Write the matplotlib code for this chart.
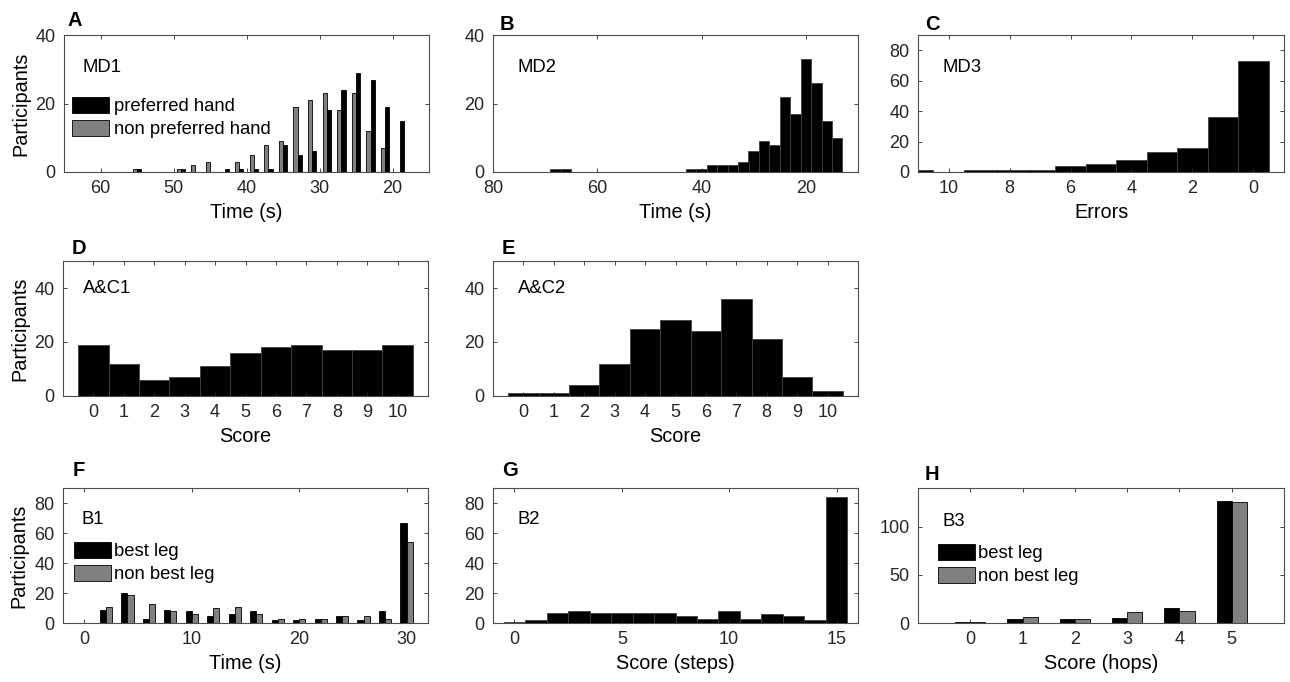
import matplotlib.pyplot as plt
import numpy as np

plt.rcParams['font.family'] = ['Liberation Sans', 'DejaVu Sans']
plt.rcParams['axes.edgecolor'] = '0.3'
plt.rcParams['xtick.color'] = '0.15'
plt.rcParams['ytick.color'] = '0.15'

# A - MD1, 2 s bins
md1_time = [19, 21, 23, 25, 27, 29, 31, 33, 35, 37, 39, 41, 43, 45, 47, 49, 51, 53, 55]
md1_pref = [15, 19, 27, 29, 24, 18, 6, 5, 8, 1, 1, 1, 1, 0, 0, 1, 0, 0, 1]
md1_nonpref = [0, 7, 12, 23, 18, 23, 21, 19, 9, 8, 5, 3, 0, 3, 2, 1, 0, 0, 1]

# B - MD2
md2_time = [14, 16, 18, 20, 22, 24, 26, 28, 30, 32, 34, 36, 38, 40, 42, 66, 68]
md2_count = [10, 15, 26, 33, 17, 22, 8, 9, 6, 3, 2, 2, 2, 1, 1, 1, 1]

# C - MD3
md3_errors = [0, 1, 2, 3, 4, 5, 6, 7, 8, 9, 10, 11]
md3_count = [73, 36, 16, 13, 8, 5, 4, 1, 1, 1, 0, 1]

# D, E - A&C1, A&C2
ac_score = [0, 1, 2, 3, 4, 5, 6, 7, 8, 9, 10]
ac1_count = [19, 12, 6, 7, 11, 16, 18, 19, 17, 17, 19]
ac2_count = [1, 1, 4, 12, 25, 28, 24, 36, 21, 7, 2]

# F - B1
b1_time = [2, 4, 6, 8, 10, 12, 14, 16, 18, 20, 22, 24, 26, 28, 30]
b1_best = [9, 20, 3, 9, 8, 5, 6, 8, 2, 2, 3, 5, 2, 8, 67]
b1_nonbest = [11, 19, 13, 8, 6, 10, 11, 6, 3, 3, 3, 5, 5, 3, 54]

# G - B2
b2_steps = [0, 1, 2, 3, 4, 5, 6, 7, 8, 9, 10, 11, 12, 13, 14, 15]
b2_count = [1, 2, 7, 8, 7, 7, 7, 7, 5, 3, 8, 3, 6, 5, 2, 84]

# H - B3
b3_hops = [0, 1, 2, 3, 4, 5]
b3_best = [1, 4, 4, 5, 16, 127]
b3_nonbest = [1, 6, 4, 11, 12, 125]

W, H = 1290, 682
fig = plt.figure(figsize=(W / 100, H / 100), dpi=100)

TICK = 13
LAB = 14.3
TXT = 13.3
GREY = '#808080'


def make_ax(l, t, r, b):
    ax = fig.add_axes([l / W, 1 - b / H, (r - l) / W, (b - t) / H])
    ax.tick_params(direction='in', top=True, right=True, length=3, width=0.6,
                   labelsize=TICK, pad=6)
    for s in ax.spines.values():
        s.set_linewidth(0.8)
    return ax


def hist_bars(ax, x, y, w):
    ax.bar(x, y, width=w, color='black', edgecolor='0.25', linewidth=0.6)


# ---- A
ax = make_ax(64, 35, 429, 172)
bw = 0.57
ax.bar(np.array(md1_time) + bw / 2, md1_nonpref, width=bw, color=GREY,
       edgecolor='black', linewidth=0.6, label='non preferred hand')
ax.bar(np.array(md1_time) - bw / 2, md1_pref, width=bw, color='black',
       edgecolor='black', linewidth=0.6, label='preferred hand')
ax.set_xlim(65, 15)
ax.set_ylim(0, 40)
ax.set_xticks([60, 50, 40, 30, 20])
ax.set_yticks([0, 20, 40])
ax.set_xlabel('Time (s)', fontsize=LAB)
ax.set_ylabel('Participants', fontsize=LAB)
ax.text(0.052, 0.76, 'MD1', transform=ax.transAxes, fontsize=TXT, va='center')
h, l = ax.get_legend_handles_labels()
ax.legend(h[::-1], l[::-1], loc='upper left', bbox_to_anchor=(0.022, 0.55),
          frameon=False, fontsize=TXT, borderpad=0, borderaxespad=0,
          handlelength=2.0, handleheight=0.95, handletextpad=0.25,
          labelspacing=0.25)

# ---- B
ax = make_ax(493, 35, 858, 172)
hist_bars(ax, md2_time, md2_count, 2)
ax.set_xlim(80, 10)
ax.set_ylim(0, 40)
ax.set_xticks([80, 60, 40, 20])
ax.set_yticks([0, 20, 40])
ax.set_xlabel('Time (s)', fontsize=LAB)
ax.text(0.066, 0.766, 'MD2', transform=ax.transAxes, fontsize=TXT, va='center')

# ---- C
ax = make_ax(918, 35, 1284, 172)
hist_bars(ax, md3_errors, md3_count, 1)
ax.set_xlim(11, -1)
ax.set_ylim(0, 90)
ax.set_xticks([10, 8, 6, 4, 2, 0])
ax.set_yticks([0, 20, 40, 60, 80])
ax.set_xlabel('Errors', fontsize=LAB)
ax.text(0.068, 0.766, 'MD3', transform=ax.transAxes, fontsize=TXT, va='center')

# ---- D
ax = make_ax(63, 261, 428, 396)
hist_bars(ax, ac_score, ac1_count, 1)
ax.set_xlim(-1, 11)
ax.set_ylim(0, 50)
ax.set_xticks(ac_score)
ax.set_yticks([0, 20, 40])
ax.set_xlabel('Score', fontsize=LAB)
ax.set_ylabel('Participants', fontsize=LAB)
ax.text(0.055, 0.8, 'A&C1', transform=ax.transAxes, fontsize=TXT, va='center')

# ---- E
ax = make_ax(493, 261, 858, 396)
hist_bars(ax, ac_score, ac2_count, 1)
ax.set_xlim(-1, 11)
ax.set_ylim(0, 50)
ax.set_xticks(ac_score)
ax.set_yticks([0, 20, 40])
ax.set_xlabel('Score', fontsize=LAB)
ax.text(0.068, 0.8, 'A&C2', transform=ax.transAxes, fontsize=TXT, va='center')

# ---- F
ax = make_ax(63, 488, 428, 623)
ax.bar(np.array(b1_time) - bw / 2, b1_best, width=bw, color='black',
       edgecolor='black', linewidth=0.6, label='best leg')
ax.bar(np.array(b1_time) + bw / 2, b1_nonbest, width=bw, color=GREY,
       edgecolor='black', linewidth=0.6, label='non best leg')
ax.set_xlim(-2, 32)
ax.set_ylim(0, 90)
ax.set_xticks([0, 10, 20, 30])
ax.set_yticks([0, 20, 40, 60, 80])
ax.set_xlabel('Time (s)', fontsize=LAB)
ax.set_ylabel('Participants', fontsize=LAB)
ax.text(0.052, 0.763, 'B1', transform=ax.transAxes, fontsize=TXT, va='center')
ax.legend(loc='upper left', bbox_to_anchor=(0.03, 0.6),
          frameon=False, fontsize=TXT, borderpad=0, borderaxespad=0,
          handlelength=2.0, handleheight=0.95, handletextpad=0.15,
          labelspacing=0.25)

# ---- G
ax = make_ax(493, 488, 858, 623)
hist_bars(ax, b2_steps, b2_count, 1)
ax.set_xlim(-1, 16)
ax.set_ylim(0, 90)
ax.set_xticks([0, 5, 10, 15])
ax.set_yticks([0, 20, 40, 60, 80])
ax.set_xlabel('Score (steps)', fontsize=LAB)
ax.text(0.066, 0.763, 'B2', transform=ax.transAxes, fontsize=TXT, va='center')

# ---- H
ax = make_ax(918, 488, 1284, 623)
hw = 0.29
ax.bar(np.array(b3_hops) - hw / 2, b3_best, width=hw, color='black',
       edgecolor='black', linewidth=0.6, label='best leg')
ax.bar(np.array(b3_hops) + hw / 2, b3_nonbest, width=hw, color=GREY,
       edgecolor='black', linewidth=0.6, label='non best leg')
ax.set_xlim(-1, 6)
ax.set_ylim(0, 140)
ax.set_xticks(b3_hops)
ax.set_yticks([0, 50, 100])
ax.set_xlabel('Score (hops)', fontsize=LAB)
ax.text(0.068, 0.75, 'B3', transform=ax.transAxes, fontsize=TXT, va='center')
ax.legend(loc='upper left', bbox_to_anchor=(0.055, 0.585),
          frameon=False, fontsize=TXT, borderpad=0, borderaxespad=0,
          handlelength=2.0, handleheight=0.95, handletextpad=0.15,
          labelspacing=0.25)

# panel letters
for letter, px, py in [('A', 68, 26), ('B', 500, 30), ('C', 925, 30),
                       ('D', 72, 254), ('E', 502, 254),
                       ('F', 73, 476), ('G', 502, 476), ('H', 925, 480)]:
    fig.text(px / W, 1 - py / H, letter, fontsize=14.5, fontweight='bold',
             ha='left', va='baseline')

plt.savefig('out.png', dpi=100)
